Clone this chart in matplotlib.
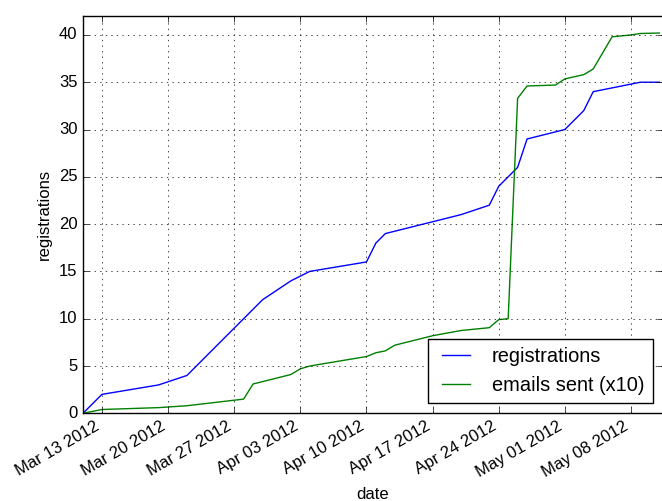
import datetime as dt
import matplotlib
matplotlib.use("Agg")
import matplotlib.pyplot as plt
import matplotlib.dates as mdates

plt.style.use("classic")
plt.rcParams["font.family"] = ["Liberation Sans", "DejaVu Sans"]

# registrations (cumulative)
reg_dates = ["2012-03-11", "2012-03-13", "2012-03-19", "2012-03-22", "2012-03-30",
             "2012-04-02", "2012-04-04", "2012-04-10", "2012-04-11", "2012-04-12",
             "2012-04-20", "2012-04-23", "2012-04-24", "2012-04-26", "2012-04-27",
             "2012-05-01", "2012-05-03", "2012-05-04", "2012-05-09", "2012-05-11"]
reg_values = [0, 2, 3, 4, 12, 14, 15, 16, 18, 19, 21, 22, 24, 26, 29, 30, 32, 34, 35, 35]

# emails sent, divided by 10
mail_dates = ["2012-03-11", "2012-03-13", "2012-03-19", "2012-03-22", "2012-03-28",
              "2012-03-29", "2012-04-02", "2012-04-03", "2012-04-04", "2012-04-10",
              "2012-04-11", "2012-04-12", "2012-04-13", "2012-04-17", "2012-04-20",
              "2012-04-23", "2012-04-24", "2012-04-25", "2012-04-26", "2012-04-27",
              "2012-04-30", "2012-05-01", "2012-05-03", "2012-05-04", "2012-05-06",
              "2012-05-08", "2012-05-09", "2012-05-11"]
mail_values = [0, 0.4, 0.6, 0.8, 1.5, 3.1, 4.1, 4.7, 5.0, 6.0,
               6.4, 6.6, 7.2, 8.2, 8.75, 9.05, 9.9, 10.0, 33.3, 34.6,
               34.7, 35.35, 35.8, 36.4, 39.8, 40.0, 40.15, 40.2]

reg_x = [dt.datetime.strptime(d, "%Y-%m-%d") for d in reg_dates]
mail_x = [dt.datetime.strptime(d, "%Y-%m-%d") for d in mail_dates]

fig = plt.figure(figsize=(6.62, 5.01), dpi=100, facecolor="white")
ax = fig.add_axes([83 / 662, 1 - 413.3 / 501, 579.5 / 662, 397.3 / 501])

ax.plot(reg_x, reg_values, color="b", label="registrations")
ax.plot(mail_x, mail_values, color="g", label="emails sent (x10)")

ax.set_xlim(dt.datetime(2012, 3, 11), dt.datetime(2012, 5, 11, 8))
ax.set_ylim(0, 42)
ax.xaxis.set_major_locator(mdates.WeekdayLocator(byweekday=mdates.TU))
ax.xaxis.set_major_formatter(mdates.DateFormatter("%b %d %Y"))
for lbl in ax.get_xticklabels():
    lbl.set_rotation(30)
    lbl.set_ha("right")

ax.grid(True)
ax.set_xlabel("date")
ax.set_ylabel("registrations")
ax.legend(loc="lower right")

fig.savefig("out.png", dpi=100, facecolor="white")
